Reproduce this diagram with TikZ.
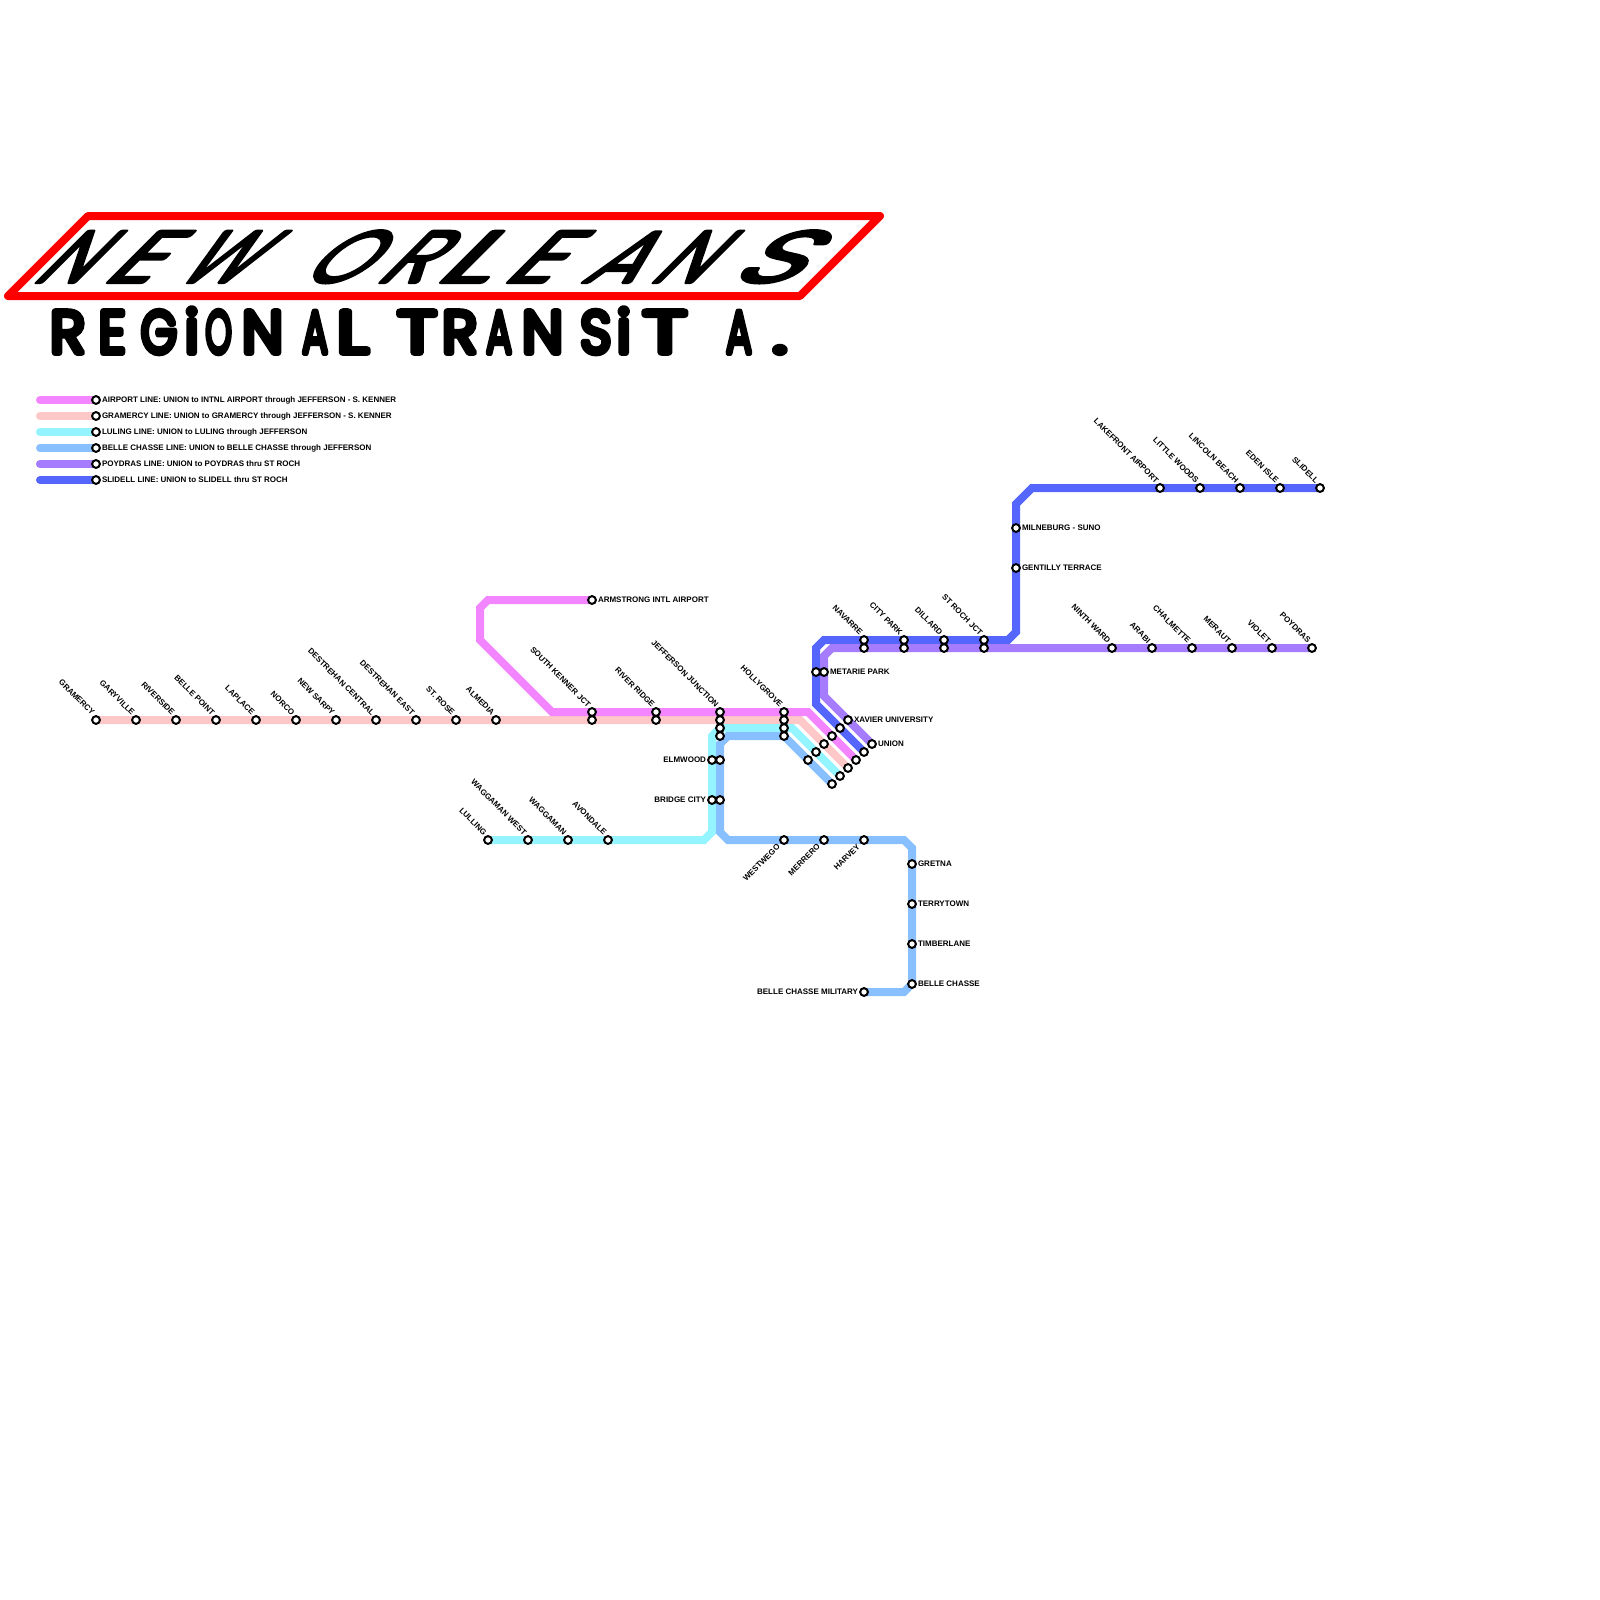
\documentclass[tikz,border=0pt]{standalone}
\usepackage{fontspec}
\usepackage{graphicx}
\setmainfont{Liberation Sans}[BoldFont={Liberation Sans Bold}]
\newfontfamily\titlefont{Poppins Light}
\usetikzlibrary{calc}
\pgfdeclarelayer{tracks}
\pgfsetlayers{tracks,main}
\definecolor{airportc}{RGB}{243,133,255}
\definecolor{gramercyc}{RGB}{255,200,200}
\definecolor{lulingc}{RGB}{148,244,255}
\definecolor{bellec}{RGB}{136,191,255}
\definecolor{poydrasc}{RGB}{166,124,255}
\definecolor{slidellc}{RGB}{85,102,255}
\tikzset{
  stn/.style={circle,draw=black,fill=white,line width=2pt,minimum size=7.8pt,inner sep=0pt,outer sep=0pt},
  lbl/.style={font=\fontsize{8}{8}\selectfont\bfseries,inner sep=0pt,outer sep=0pt},
  lblR/.style={lbl,anchor=base west},
  lblL/.style={lbl,anchor=base east},
  lblUp/.style={lbl,anchor=base east,rotate=-45},
  lblDn/.style={lbl,anchor=base east,rotate=45},
  track/.style={line width=8pt,miter limit=10},
  legendline/.style={line width=8pt,line cap=round},
  frame/.style={draw=red,line width=8pt,line join=round},
  ttl/.style={inner sep=0pt,outer sep=0pt,anchor=base west}
}
% station: name, x, y
\newcommand{\sn}[3]{\node[stn] (#1) at (#2,#3) {};}
% station with labels in the four placements
\newcommand{\snU}[4]{\sn{#1}{#2}{#3}\node[lblUp] (#1t) at ($(#1)+(-4.7,-4.3)$) {#4};}
\newcommand{\snD}[4]{\sn{#1}{#2}{#3}\node[lblDn] (#1t) at ($(#1)+(-3.5,7.5)$) {#4};}
\newcommand{\snR}[4]{\sn{#1}{#2}{#3}\node[lblR] (#1t) at ($(#1)+(6,2)$) {#4};}
\newcommand{\snL}[4]{\sn{#1}{#2}{#3}\node[lblL] (#1t) at ($(#1)+(-6,2)$) {#4};}
\newcommand{\titleon}[1]{\special{pdf:code 1 j 1 J #1 w 2 Tr}}
\newcommand{\titleoff}{\special{pdf:code 0 Tr}}
% one title letter: cell width, horizontal stretch, letter
\newcommand{\Lt}[3]{\makebox[#1pt][l]{\scalebox{#2}[1]{#3}}}
\begin{document}
\begin{tikzpicture}[x=1pt,y=-1pt]
\useasboundingbox (0,0) rectangle (1600,1600);
% ---- frame and title
\draw[frame] (88,216) -- (880,216) -- (800,296) -- (8,296) -- cycle;
\node[ttl,xslant=1,transform shape] (titleA) at (31.5,282) {\titlefont\fontsize{72}{72}\selectfont\titleon{4}%
 \Lt{70.05}{1}{N}\Lt{71.45}{1.3}{E}\Lt{125.2}{1}{W}\Lt{76.65}{1.05}{O}\Lt{58.15}{1.1}{R}\Lt{68.55}{1.7}{L}\Lt{79.35}{1.3}{E}\Lt{67.6}{1.1}{A}\Lt{79.74}{1}{N}\Lt{60}{1.6}{S}\titleoff};
\node[ttl] (titleB) at (50.25,352.7) {\titlefont\fontsize{59}{59}\selectfont\titleon{6.5}%
 \Lt{48.5}{1}{R}\Lt{42.2}{.9}{E}\Lt{44}{.78}{G}\Lt{20.6}{1}{i}\Lt{36.7}{.56}{O}\Lt{60.3}{1}{N}\Lt{34.5}{.65}{A}\Lt{60.9}{1.25}{L}\Lt{44.3}{1.25}{T}\Lt{44.3}{1}{R}\Lt{35.7}{.65}{A}\Lt{58.3}{1}{N}\Lt{36.4}{.9}{S}\Lt{26.5}{1}{i}\Lt{83}{1.4}{T}\Lt{46.4}{.65}{A}\Lt{20}{1.3}{.}\titleoff};
% ---- legend
\sn{kA}{96}{400}\sn{kG}{96}{416}\sn{kL}{96}{432}\sn{kB}{96}{448}\sn{kP}{96}{464}\sn{kS}{96}{480}
\foreach \n/\t in {kA/{AIRPORT LINE: UNION to INTNL AIRPORT through JEFFERSON - S. KENNER},
 kG/{GRAMERCY LINE: UNION to GRAMERCY through JEFFERSON - S. KENNER},
 kL/{LULING LINE: UNION to LULING through JEFFERSON},
 kB/{BELLE CHASSE LINE: UNION to BELLE CHASSE through JEFFERSON},
 kP/{POYDRAS LINE: UNION to POYDRAS thru ST ROCH},
 kS/{SLIDELL LINE: UNION to SLIDELL thru ST ROCH}}
 {\node[lblR] (\n t) at ($(\n)+(6,2)$) {\t};
  \coordinate (\n s) at ($(\n)+(-56,0)$);}
% ---- stations
\snU{gramercy}{96}{720}{GRAMERCY}\snU{garyville}{136}{720}{GARYVILLE}\snU{riverside}{176}{720}{RIVERSIDE}
\snU{bellepoint}{216}{720}{BELLE POINT}\snU{laplace}{256}{720}{LAPLACE}\snU{norco}{296}{720}{NORCO}
\snU{newsarpy}{336}{720}{NEW SARPY}\snU{descentral}{376}{720}{DESTREHAN CENTRAL}\snU{deseast}{416}{720}{DESTREHAN EAST}
\snU{strose}{456}{720}{ST. ROSE}\snU{almedia}{496}{720}{ALMEDIA}
\snR{armstrong}{592}{600}{ARMSTRONG INTL AIRPORT}
\snU{skA}{592}{712}{SOUTH KENNER JCT}\sn{skG}{592}{720}
\snU{rrA}{656}{712}{RIVER RIDGE}\sn{rrG}{656}{720}
\snU{jjA}{720}{712}{JEFFERSON JUNCTION}\sn{jjG}{720}{720}\sn{jjL}{720}{728}\sn{jjB}{720}{736}
\snU{hgA}{784}{712}{HOLLYGROVE}\sn{hgG}{784}{720}\sn{hgL}{784}{728}\sn{hgB}{784}{736}
\snL{elmL}{712}{760}{ELMWOOD}\sn{elmB}{720}{760}
\snL{brL}{712}{800}{BRIDGE CITY}\sn{brB}{720}{800}
\snU{lulling}{488}{840}{LULLING}\snU{wagw}{528}{840}{WAGGAMAN WEST}\snU{wag}{568}{840}{WAGGAMAN}\snU{avon}{608}{840}{AVONDALE}
\snD{westw}{784}{840}{WESTWEGO}\snD{merrero}{824}{840}{MERRERO}\snD{harvey}{864}{840}{HARVEY}
\snR{gretna}{912}{864}{GRETNA}\snR{terry}{912}{904}{TERRYTOWN}\snR{timber}{912}{944}{TIMBERLANE}\snR{bellech}{912}{984}{BELLE CHASSE}
\snL{military}{864}{992}{BELLE CHASSE MILITARY}
% union fan
\snR{xavier}{848}{720}{XAVIER UNIVERSITY}\sn{xS}{840}{728}\sn{xA}{832}{736}\sn{xG}{824}{744}\sn{xL}{816}{752}\sn{xB}{808}{760}
\snR{unionP}{872}{744}{UNION}\sn{unionS}{864}{752}\sn{unionA}{856}{760}\sn{unionG}{848}{768}\sn{unionL}{840}{776}\sn{unionB}{832}{784}
\sn{metS}{816}{672}\snR{metP}{824}{672}{METARIE PARK}
\snU{navS}{864}{640}{NAVARRE}\sn{navP}{864}{648}
\snU{cpS}{904}{640}{CITY PARK}\sn{cpP}{904}{648}
\snU{dilS}{944}{640}{DILLARD}\sn{dilP}{944}{648}
\snU{srS}{984}{640}{ST ROCH JCT}\sn{srP}{984}{648}
\snR{gentilly}{1016}{568}{GENTILLY TERRACE}\snR{milne}{1016}{528}{MILNEBURG - SUNO}
\snU{lakef}{1160}{488}{LAKEFRONT AIRPORT}\snU{littlew}{1200}{488}{LITTLE WOODS}\snU{lincoln}{1240}{488}{LINCOLN BEACH}\snU{eden}{1280}{488}{EDEN ISLE}\snU{slidell}{1320}{488}{SLIDELL}
\snU{ninth}{1112}{648}{NINTH WARD}\snU{arabi}{1152}{648}{ARABI}\snU{chal}{1192}{648}{CHALMETTE}\snU{meraut}{1232}{648}{MERAUT}\snU{violet}{1272}{648}{VIOLET}\snU{poydras}{1312}{648}{POYDRAS}
% ---- bends
\coordinate (a1) at (488,600);\coordinate (a2) at (480,608);\coordinate (a3) at (480,640);\coordinate (a4) at (552,712);\coordinate (a5) at (808,712);
\coordinate (g1) at (800,720);
\coordinate (l1) at (704,840);\coordinate (l2) at (712,832);\coordinate (l3) at (712,736);\coordinate (l4) at (720,728);\coordinate (l5) at (792,728);
\coordinate (b1) at (728,736);\coordinate (b2) at (720,744);\coordinate (b3) at (720,832);\coordinate (b4) at (728,840);\coordinate (b5) at (904,840);\coordinate (b6) at (912,848);\coordinate (b7) at (904,992);\coordinate (b8) at (784,736);
\coordinate (p1) at (824,696);\coordinate (p2) at (824,656);\coordinate (p3) at (832,648);
\coordinate (s1) at (816,704);\coordinate (s2) at (816,648);\coordinate (s3) at (824,640);\coordinate (s4) at (1008,640);\coordinate (s5) at (1016,632);\coordinate (s6) at (1016,504);\coordinate (s7) at (1032,488);
\begin{pgfonlayer}{tracks}
\draw[legendline,airportc] (kAs) -- (kA.center);
\draw[legendline,gramercyc] (kGs) -- (kG.center);
\draw[legendline,lulingc] (kLs) -- (kL.center);
\draw[legendline,bellec] (kBs) -- (kB.center);
\draw[legendline,poydrasc] (kPs) -- (kP.center);
\draw[legendline,slidellc] (kSs) -- (kS.center);
\draw[track,gramercyc] (gramercy.center) -- (g1) -- (unionG.center);
\draw[track,airportc] (armstrong.center) -- (a1) -- (a2) -- (a3) -- (a4) -- (a5) -- (unionA.center);
\draw[track,lulingc] (lulling.center) -- (l1) -- (l2) -- (l3) -- (l4) -- (l5) -- (unionL.center);
\draw[track,bellec] (unionB.center) -- (b8) -- (b1) -- (b2) -- (b3) -- (b4) -- (b5) -- (b6) -- (bellech.center) -- (b7) -- (military.center);
\draw[track,slidellc] (unionS.center) -- (s1) -- (s2) -- (s3) -- (s4) -- (s5) -- (s6) -- (s7) -- (slidell.center);
\draw[track,poydrasc] (unionP.center) -- (p1) -- (p2) -- (p3) -- (poydras.center);
\end{pgfonlayer}
\end{tikzpicture}
\end{document}
